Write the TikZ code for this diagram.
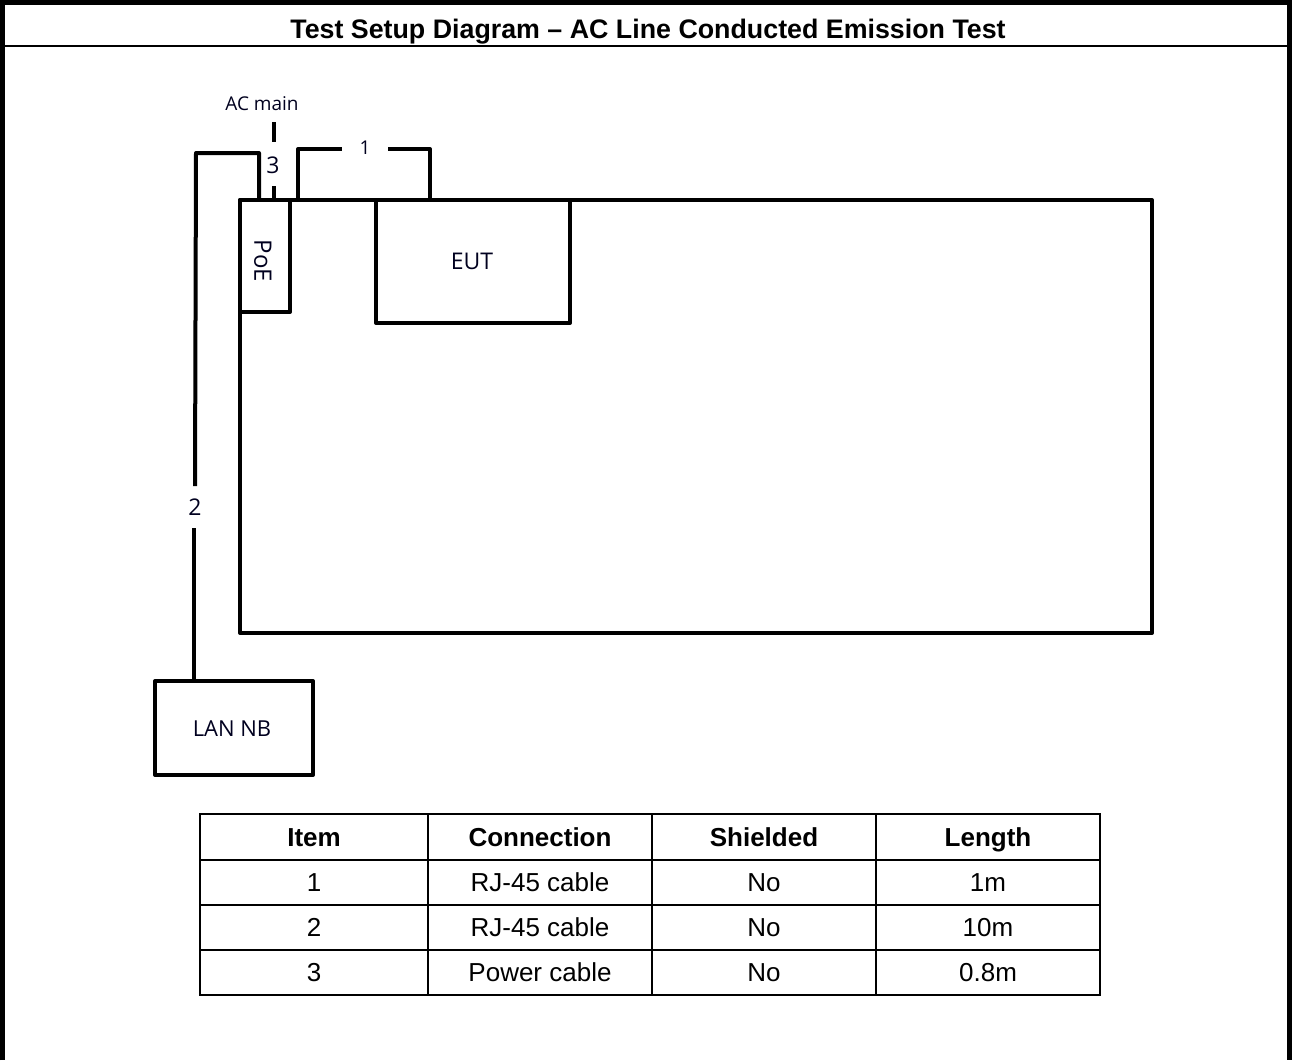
\documentclass[tikz,border=0pt]{standalone}
\usepackage{fontspec}
\setmainfont{Liberation Sans}
\newfontfamily\lblfont{Open Sans}
\begin{document}
\begin{tikzpicture}[x=1pt,y=-1pt,
  frame/.style={line width=5pt},
  sep/.style={line width=2.5pt},
  thick box/.style={draw, line width=4pt, inner sep=0pt, line join=round},
  cable/.style={line width=4pt, line join=round},
  lbl/.style 2 args={font=\lblfont\fontsize{#1}{22}\selectfont, text=black!88!blue, inner sep=0pt, text height=#2, text depth=0pt},
  grid/.style={line width=2pt},
  th/.style={font=\bfseries\fontsize{26}{30}\selectfont, inner sep=0pt, text height=18.6pt, text depth=0pt},
  td/.style={font=\fontsize{26}{30}\selectfont, inner sep=0pt, text height=18.6pt, text depth=0pt}]
\useasboundingbox (0,0) rectangle (1292,1060);
\fill[white] (0,0) rectangle (1292,1060);
% outer frame
\draw[frame] (2.5,1060) -- (2.5,2.5) -- (1289.5,2.5) -- (1289.5,1060);
\draw[sep] (0,46) -- (1292,46);
\node[font=\bfseries\fontsize{26.8}{30}\selectfont, inner sep=0pt, text height=19.2pt, text depth=0pt] (title) at (648,28.5) {Test Setup Diagram -- AC Line Conducted Emission Test};
% test table
\node[thick box, minimum width=912pt, minimum height=433pt] (tbl) at (696,416.5) {};
\node[thick box, minimum width=50pt, minimum height=112pt] (poe) at (265,256) {};
\node[lbl={24}{17.1pt}, rotate=-90] (poetxt) at (263,261) {PoE};
\node[thick box, minimum width=194pt, minimum height=123pt] (eut) at (473,261.5) {};
\node[lbl={23}{16.4pt}] (euttxt) at (472,261) {EUT};
\node[thick box, minimum width=158pt, minimum height=94pt] (lan) at (234,728) {};
\node[lbl={22}{15.7pt}] (lantxt) at (232,729) {LAN NB};
% cable 1
\coordinate (c1a) at (298,200);
\coordinate (c1b) at (430,200);
\draw[cable] (c1a) -- (298,149) -- (342,149);
\draw[cable] (388,149) -- (430,149) -- (c1b);
\node[lbl={19}{13.6pt}] (l1) at (365,148) {1};
% cable 3
\node[lbl={19}{13.6pt}] (acmain) at (262,104) {AC main};
\coordinate (c3a) at (274,122);
\coordinate (c3m1) at (274,142);
\coordinate (c3m2) at (274,186);
\coordinate (c3b) at (274,200);
\draw[cable] (c3a) -- (c3m1);
\draw[cable] (c3m2) -- (c3b);
\node[lbl={23}{16.4pt}] (l3) at (273,165) {3};
% cable 2
\coordinate (c2a) at (259,200);
\coordinate (c2m1) at (195,486);
\coordinate (c2m2) at (194,528);
\draw[cable] (c2a) -- (259,153) -- (196,153) -- (c2m1);
\draw[cable] (c2m2) -- (lan.north -| c2m2);
\node[lbl={23}{16.4pt}] (l2) at (195,507) {2};
% table
\draw[grid] (200,814) rectangle (1100,995);
\foreach \y in {860,905,950} \draw[grid] (200,\y) -- (1100,\y);
\foreach \x in {428,652,876} \draw[grid] (\x,814) -- (\x,995);
\node[th] (h1) at (314,837) {Item};
\node[th] (h2) at (540,837) {Connection};
\node[th] (h3) at (764,837) {Shielded};
\node[th] (h4) at (988,837) {Length};
\node[td] (r1a) at (314,882) {1};
\node[td] (r1b) at (540,882) {RJ-45 cable};
\node[td] (r1c) at (764,882) {No};
\node[td] (r1d) at (988,882) {1m};
\node[td] (r2a) at (314,927) {2};
\node[td] (r2b) at (540,927) {RJ-45 cable};
\node[td] (r2c) at (764,927) {No};
\node[td] (r2d) at (988,927) {10m};
\node[td] (r3a) at (314,972) {3};
\node[td] (r3b) at (540,972) {Power cable};
\node[td] (r3c) at (764,972) {No};
\node[td] (r3d) at (988,972) {0.8m};
\end{tikzpicture}
\end{document}
